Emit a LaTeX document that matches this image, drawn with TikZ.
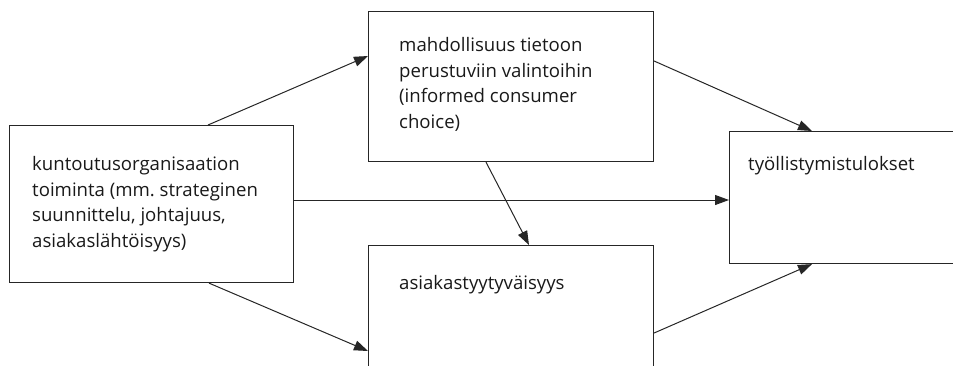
\documentclass[tikz,border=0pt]{standalone}
\usepackage{fontspec}
\setmainfont{Open Sans}
\frenchspacing
\usetikzlibrary{arrows.meta,calc}
\begin{document}
\begin{tikzpicture}[x=1pt,y=-1pt,
  box/.style={draw=black!85, line width=1.1pt, rectangle, anchor=north west, inner sep=0pt},
  txt/.style={anchor=north west, inner sep=0pt, align=left, text=black!90,
    font=\fontsize{18.6}{25.7}\selectfont},
  link/.style={draw=black!85, line width=1pt, -{Triangle[length=14pt,width=10pt]}}]
\useasboundingbox (0,0) rectangle (953,365);
\clip (0,0) rectangle (953,365);
% boxes
\node[box, minimum width=284pt, minimum height=157pt] (org) at (9,125) {};
\node[box, minimum width=285pt, minimum height=150pt] (choice) at (368,11) {};
\node[box, minimum width=285pt, minimum height=160pt] (sat) at (368,245) {};
\node[box, minimum width=300pt, minimum height=132pt] (res) at (729,131) {};
% texts
\node[txt] (orgtxt) at (32,156) {kuntoutusorganisaation\\toiminta (mm. strateginen\\suunnittelu, johtajuus,\\asiakaslähtöisyys)};
\node[txt] (choicetxt) at (399,37) {mahdollisuus tietoon\\perustuviin valintoihin\\(informed consumer\\choice)};
\node[txt] (sattxt) at (399,275) {asiakastyytyväisyys};
\node[txt] (restxt) at (748,156) {työllistymistulokset};
% connectors
\coordinate (a1) at ($(org.north west)+(199,0)$);
\coordinate (a2) at ($(choice.north west)+(0,45)$);
\draw[link] (a1) -- (a2);
\coordinate (b1) at ($(org.north east)+(0,75)$);
\coordinate (b2) at ($(res.north west)+(0,69)$);
\draw[link] (b1) -- (b2);
\coordinate (c1) at ($(org.south west)+(200,0)$);
\coordinate (c2) at ($(sat.north west)+(0,106)$);
\draw[link] (c1) -- (c2);
\coordinate (d1) at ($(choice.south west)+(118,0)$);
\coordinate (d2) at ($(sat.north west)+(161,0)$);
\draw[link] (d1) -- (d2);
\coordinate (e1) at ($(choice.north east)+(0,50)$);
\coordinate (e2) at ($(res.north west)+(83,0)$);
\draw[link] (e1) -- (e2);
\coordinate (f1) at ($(sat.north east)+(0,88)$);
\coordinate (f2) at ($(res.south west)+(83,0)$);
\draw[link] (f1) -- (f2);
\end{tikzpicture}
\end{document}
